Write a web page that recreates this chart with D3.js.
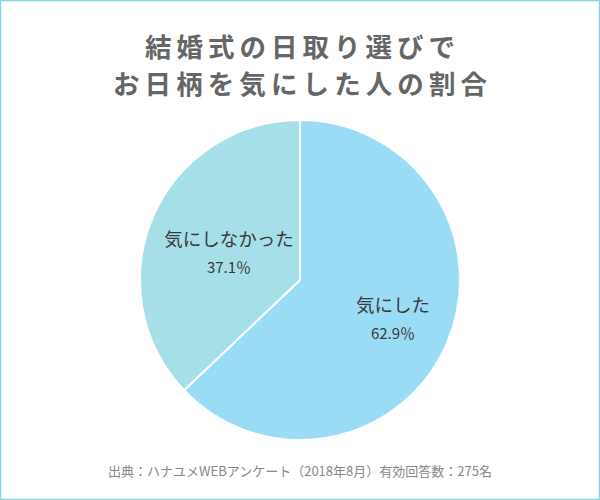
<!DOCTYPE html>
<html><head><meta charset="utf-8">
<script src="https://cdn.jsdelivr.net/npm/d3@7"></script>
<style>body{margin:0;background:#fff}svg{display:block;font-family:"Noto Sans CJK JP","Noto Sans",sans-serif}</style>
</head><body><svg id="c" width="600" height="500"></svg>
<script>
const titleLines = ["結婚式の日取り選びで", "お日柄を気にした人の割合"];
const categories = ["気にした", "気にしなかった"];
const values = [62.9, 37.1];
const colors = ["#9adcf6", "#a6dfe8"];
const source = "出典：ハナユメWEBアンケート（2018年8月）有効回答数：275名";

const svg = d3.select("#c");
svg.append("rect").attr("x",0.5).attr("y",0.5).attr("width",599).attr("height",499)
  .attr("fill","#fff").attr("stroke","#84d7e6").attr("stroke-width",1.5);

const tl = [[145,455,45],[113,487,82]];
titleLines.forEach((t,i)=>{
  svg.append("text").attr("x",tl[i][0]).attr("y",tl[i][2]).attr("dominant-baseline","central")
    .attr("textLength",tl[i][1]-tl[i][0]).attr("lengthAdjust","spacing")
    .attr("font-size",26.5).attr("font-weight","bold").attr("fill","#666").text(t);
});

const cx=300, cy=280, r=160;
const pie = d3.pie().sort(null).value(d=>d)(values);
const arc = d3.arc().innerRadius(0).outerRadius(r);
const g = svg.append("g").attr("transform",`translate(${cx},${cy})`);
g.selectAll("path").data(pie).join("path").attr("d",arc)
  .attr("fill",(d,i)=>colors[i]).attr("stroke","#fff").attr("stroke-width",2);

const labelPos = [[93,37],[-71,-29]];
pie.forEach((d,i)=>{
  g.append("text").attr("x",labelPos[i][0]).attr("y",labelPos[i][1]-13).attr("text-anchor","middle")
    .attr("dominant-baseline","central").attr("font-size",18.5).attr("fill","#3a3a3a").text(categories[i]);
  g.append("text").attr("x",labelPos[i][0]).attr("y",labelPos[i][1]+15).attr("text-anchor","middle")
    .attr("dominant-baseline","central").attr("font-size",15).attr("fill","#3a3a3a").text(values[i]+"％");
});

svg.append("text").attr("x",300).attr("y",470).attr("text-anchor","middle").attr("dominant-baseline","central")
  .attr("font-size",13).attr("fill","#888").text(source);
</script></body></html>
